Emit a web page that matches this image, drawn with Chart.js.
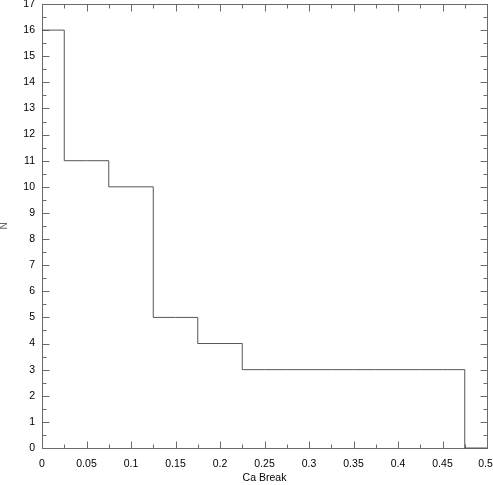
<!DOCTYPE html>
<html>
<head>
<meta charset="utf-8">
<script src="https://cdn.jsdelivr.net/npm/chart.js@4/dist/chart.umd.min.js"></script>
<style>
  html, body { margin: 0; padding: 0; background: #fff; }
  #wrap { width: 493px; height: 485px; }
</style>
</head>
<body>
<div id="wrap"><canvas id="c" width="493" height="485"></canvas></div>
<script>
// Histogram bin centres (Ca Break) and counts N
const binCenters = [0, 0.05, 0.1, 0.15, 0.2, 0.25, 0.3, 0.35, 0.4, 0.45, 0.5];
const counts     = [16, 11, 10, 5, 4, 3, 3, 3, 3, 3, 0];
const xTickLabels = ['0', '0.05', '0.1', '0.15', '0.2', '0.25', '0.3', '0.35', '0.4', '0.45', '0.5'];
const yTickLabels = ['0','1','2','3','4','5','6','7','8','9','10','11','12','13','14','15','16','17'];
const xTitle = 'Ca Break';
const yTitle = 'N';

const FONT = 'Liberation Sans, Arial, Helvetica, sans-serif';

const framePlugin = {
  id: 'frame',
  beforeDatasetsDraw(chart) {
    const ctx = chart.ctx;
    const xs = chart.scales.x, ys = chart.scales.y;
    const L = Math.round(xs.left) + 0.5, R = Math.round(xs.right) + 0.5;
    const T = Math.round(ys.top) + 0.5, B = Math.round(ys.bottom) + 0.5;
    ctx.save();
    ctx.strokeStyle = '#6a6a6a';
    ctx.lineWidth = 1;
    ctx.strokeRect(L, T, R - L, B - T);
    ctx.beginPath();
    const majLen = 7, minLen = 4;
    const xt = xs.ticks.map(t => t.value);
    const drawX = (v, len) => {
      const p = Math.round(xs.getPixelForValue(v)) + 0.5;
      ctx.moveTo(p, B); ctx.lineTo(p, B - len);
      ctx.moveTo(p, T); ctx.lineTo(p, T + len);
    };
    xt.forEach((v, i) => {
      drawX(v, majLen);
      if (i < xt.length - 1) drawX((v + xt[i + 1]) / 2, minLen);
    });
    const yt = ys.ticks.map(t => t.value);
    const drawY = (v, len) => {
      const p = Math.round(ys.getPixelForValue(v)) + 0.5;
      ctx.moveTo(L, p); ctx.lineTo(L + len, p);
      ctx.moveTo(R, p); ctx.lineTo(R - len, p);
    };
    yt.forEach((v, i) => {
      drawY(v, majLen);
      if (i < yt.length - 1) drawY((v + yt[i + 1]) / 2, minLen);
    });
    ctx.stroke();
    ctx.restore();
  }
};

new Chart(document.getElementById('c'), {
  type: 'line',
  data: {
    datasets: [{
      data: binCenters.map((x, i) => ({ x: x, y: counts[i] })),
      stepped: 'middle',
      borderColor: '#555555',
      borderWidth: 1,
      pointRadius: 0,
      fill: false,
      clip: 4
    }]
  },
  options: {
    responsive: false,
    animation: false,
    devicePixelRatio: 1,
    layout: { padding: { left: 0, right: 6, top: 4, bottom: 0 } },
    plugins: { legend: { display: false }, tooltip: { enabled: false } },
    scales: {
      x: {
        type: 'linear',
        min: 0, max: 0.5,
        grid: { display: false, drawTicks: false },
        border: { display: false },
        ticks: {
          stepSize: 0.05,
          padding: 10,
          maxRotation: 0,
          autoSkip: false,
          color: '#000',
          font: { family: FONT, size: 10.5 },
          callback: (v, i) => xTickLabels[i] + (i === xTickLabels.length - 1 ? ' ' : '')
        },
        title: {
          display: true, text: xTitle, color: '#000',
          font: { family: FONT, size: 10.5 },
          padding: { top: 0, bottom: 1 }
        },
        afterFit(s) { s.height = 37; s.paddingLeft = 0; s.paddingRight = 0; }
      },
      y: {
        type: 'linear',
        min: 0, max: 17,
        grid: { display: false, drawTicks: false },
        border: { display: false },
        ticks: {
          stepSize: 1,
          padding: 7,
          autoSkip: false,
          color: '#000',
          font: { family: FONT, size: 10.5 },
          callback: (v, i) => yTickLabels[i]
        },
        title: {
          display: true, text: yTitle, color: '#666',
          font: { family: FONT, size: 10, lineHeight: 0.8 },
          padding: 0
        },
        afterFit(s) { s.width = 42; s.paddingTop = 0; s.paddingBottom = 0; }
      }
    }
  },
  plugins: [framePlugin]
});
</script>
</body>
</html>
